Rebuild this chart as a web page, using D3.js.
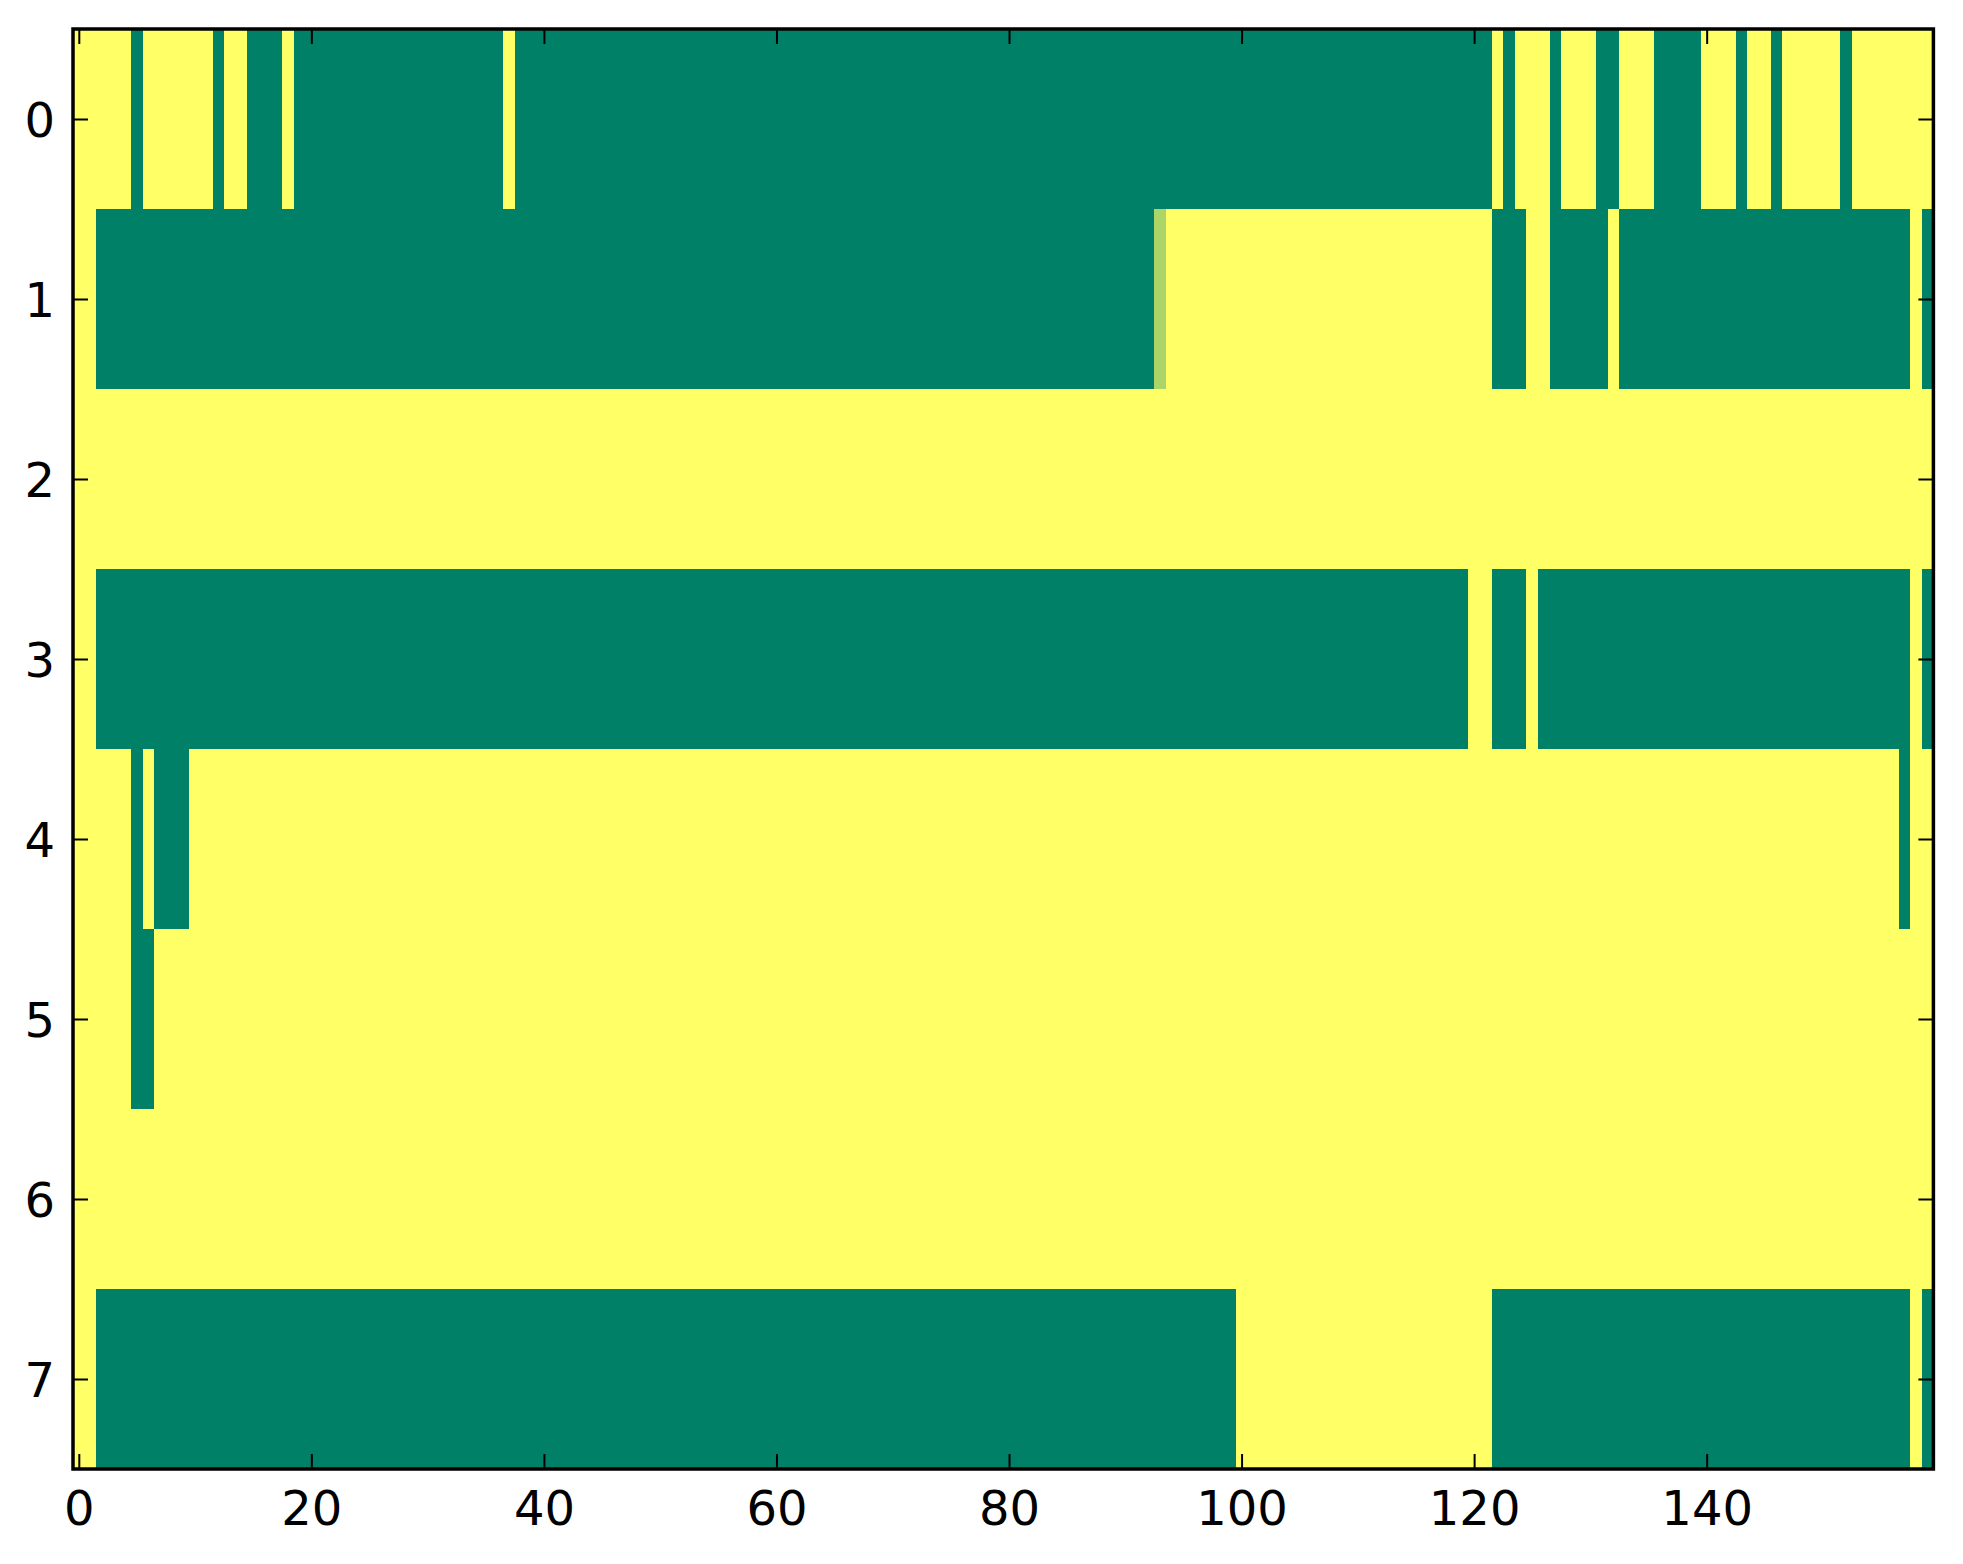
<!DOCTYPE html>
<html>
<head>
<meta charset="utf-8">
<script src="https://cdn.jsdelivr.net/npm/d3@7/dist/d3.min.js"></script>
<style>
  body { margin: 0; background: #fff; }
  svg { display: block; }
  .axis text { font-family: "DejaVu Sans", sans-serif; font-size: 48px; fill: #000; }
</style>
</head>
<body>
<div id="chart"></div>
<script>
// one array per image row, 160 columns each (0 = green, 1 = yellow)
var row0 = [
  1,1,1,1,1,0,1,1,1,1,1,1,0,1,1,0,0,0,1,0,
  0,0,0,0,0,0,0,0,0,0,0,0,0,0,0,0,0,1,0,0,
  0,0,0,0,0,0,0,0,0,0,0,0,0,0,0,0,0,0,0,0,
  0,0,0,0,0,0,0,0,0,0,0,0,0,0,0,0,0,0,0,0,
  0,0,0,0,0,0,0,0,0,0,0,0,0,0,0,0,0,0,0,0,
  0,0,0,0,0,0,0,0,0,0,0,0,0,0,0,0,0,0,0,0,
  0,0,1,0,1,1,1,0,1,1,1,0,0,1,1,1,0,0,0,0,
  1,1,1,0,1,1,0,1,1,1,1,1,0,1,1,1,1,1,1,1
];
var row1 = [
  1,1,0,0,0,0,0,0,0,0,0,0,0,0,0,0,0,0,0,0,
  0,0,0,0,0,0,0,0,0,0,0,0,0,0,0,0,0,0,0,0,
  0,0,0,0,0,0,0,0,0,0,0,0,0,0,0,0,0,0,0,0,
  0,0,0,0,0,0,0,0,0,0,0,0,0,0,0,0,0,0,0,0,
  0,0,0,0,0,0,0,0,0,0,0,0,0,0.67,1,1,1,1,1,1,
  1,1,1,1,1,1,1,1,1,1,1,1,1,1,1,1,1,1,1,1,
  1,1,0,0,0,1,1,0,0,0,0,0,1,0,0,0,0,0,0,0,
  0,0,0,0,0,0,0,0,0,0,0,0,0,0,0,0,0,0,1,0
];
var row2 = [
  1,1,1,1,1,1,1,1,1,1,1,1,1,1,1,1,1,1,1,1,
  1,1,1,1,1,1,1,1,1,1,1,1,1,1,1,1,1,1,1,1,
  1,1,1,1,1,1,1,1,1,1,1,1,1,1,1,1,1,1,1,1,
  1,1,1,1,1,1,1,1,1,1,1,1,1,1,1,1,1,1,1,1,
  1,1,1,1,1,1,1,1,1,1,1,1,1,1,1,1,1,1,1,1,
  1,1,1,1,1,1,1,1,1,1,1,1,1,1,1,1,1,1,1,1,
  1,1,1,1,1,1,1,1,1,1,1,1,1,1,1,1,1,1,1,1,
  1,1,1,1,1,1,1,1,1,1,1,1,1,1,1,1,1,1,1,1
];
var row3 = [
  1,1,0,0,0,0,0,0,0,0,0,0,0,0,0,0,0,0,0,0,
  0,0,0,0,0,0,0,0,0,0,0,0,0,0,0,0,0,0,0,0,
  0,0,0,0,0,0,0,0,0,0,0,0,0,0,0,0,0,0,0,0,
  0,0,0,0,0,0,0,0,0,0,0,0,0,0,0,0,0,0,0,0,
  0,0,0,0,0,0,0,0,0,0,0,0,0,0,0,0,0,0,0,0,
  0,0,0,0,0,0,0,0,0,0,0,0,0,0,0,0,0,0,0,0,
  1,1,0,0,0,1,0,0,0,0,0,0,0,0,0,0,0,0,0,0,
  0,0,0,0,0,0,0,0,0,0,0,0,0,0,0,0,0,0,1,0
];
var row4 = [
  1,1,1,1,1,0,1,0,0,0,1,1,1,1,1,1,1,1,1,1,
  1,1,1,1,1,1,1,1,1,1,1,1,1,1,1,1,1,1,1,1,
  1,1,1,1,1,1,1,1,1,1,1,1,1,1,1,1,1,1,1,1,
  1,1,1,1,1,1,1,1,1,1,1,1,1,1,1,1,1,1,1,1,
  1,1,1,1,1,1,1,1,1,1,1,1,1,1,1,1,1,1,1,1,
  1,1,1,1,1,1,1,1,1,1,1,1,1,1,1,1,1,1,1,1,
  1,1,1,1,1,1,1,1,1,1,1,1,1,1,1,1,1,1,1,1,
  1,1,1,1,1,1,1,1,1,1,1,1,1,1,1,1,1,0,1,1
];
var row5 = [
  1,1,1,1,1,0,0,1,1,1,1,1,1,1,1,1,1,1,1,1,
  1,1,1,1,1,1,1,1,1,1,1,1,1,1,1,1,1,1,1,1,
  1,1,1,1,1,1,1,1,1,1,1,1,1,1,1,1,1,1,1,1,
  1,1,1,1,1,1,1,1,1,1,1,1,1,1,1,1,1,1,1,1,
  1,1,1,1,1,1,1,1,1,1,1,1,1,1,1,1,1,1,1,1,
  1,1,1,1,1,1,1,1,1,1,1,1,1,1,1,1,1,1,1,1,
  1,1,1,1,1,1,1,1,1,1,1,1,1,1,1,1,1,1,1,1,
  1,1,1,1,1,1,1,1,1,1,1,1,1,1,1,1,1,1,1,1
];
var row6 = [
  1,1,1,1,1,1,1,1,1,1,1,1,1,1,1,1,1,1,1,1,
  1,1,1,1,1,1,1,1,1,1,1,1,1,1,1,1,1,1,1,1,
  1,1,1,1,1,1,1,1,1,1,1,1,1,1,1,1,1,1,1,1,
  1,1,1,1,1,1,1,1,1,1,1,1,1,1,1,1,1,1,1,1,
  1,1,1,1,1,1,1,1,1,1,1,1,1,1,1,1,1,1,1,1,
  1,1,1,1,1,1,1,1,1,1,1,1,1,1,1,1,1,1,1,1,
  1,1,1,1,1,1,1,1,1,1,1,1,1,1,1,1,1,1,1,1,
  1,1,1,1,1,1,1,1,1,1,1,1,1,1,1,1,1,1,1,1
];
var row7 = [
  1,1,0,0,0,0,0,0,0,0,0,0,0,0,0,0,0,0,0,0,
  0,0,0,0,0,0,0,0,0,0,0,0,0,0,0,0,0,0,0,0,
  0,0,0,0,0,0,0,0,0,0,0,0,0,0,0,0,0,0,0,0,
  0,0,0,0,0,0,0,0,0,0,0,0,0,0,0,0,0,0,0,0,
  0,0,0,0,0,0,0,0,0,0,0,0,0,0,0,0,0,0,0,0,
  1,1,1,1,1,1,1,1,1,1,1,1,1,1,1,1,1,1,1,1,
  1,1,0,0,0,0,0,0,0,0,0,0,0,0,0,0,0,0,0,0,
  0,0,0,0,0,0,0,0,0,0,0,0,0,0,0,0,0,0,1,0
];

var rows = [row0, row1, row2, row3, row4, row5, row6, row7];
var xTicks = [0, 20, 40, 60, 80, 100, 120, 140];
var yTicks = [0, 1, 2, 3, 4, 5, 6, 7];

(function draw() {

  var W = 1963, H = 1564;
  var left = 73, right = 1933.4, top = 29, bottom = 1469;
  var ncol = row0.length;

  var x = d3.scaleLinear().domain([-0.5, ncol - 0.5]).range([left, right]);
  var y = d3.scaleLinear().domain([-0.5, rows.length - 0.5]).range([top, bottom]);

  // matplotlib "summer" colormap
  var color = d3.scaleLinear().domain([0, 1]).range(['#008066', '#ffff66']);

  var svg = d3.select('#chart').append('svg')
      .attr('width', W)
      .attr('height', H);

  var cells = [];
  rows.forEach(function (r, i) {
    r.forEach(function (v, j) {
      cells.push({ row: i, col: j, value: v });
    });
  });

  svg.append('g')
    .selectAll('rect')
      .data(cells)
      .enter()
    .append('rect')
      .attr('x', function (d) { return x(d.col - 0.5); })
      .attr('y', function (d) { return y(d.row - 0.5); })
      .attr('width', function (d) { return x(d.col + 0.5) - x(d.col - 0.5) + 0.4; })
      .attr('height', function (d) { return y(d.row + 0.5) - y(d.row - 0.5) + 0.4; })
      .attr('fill', function (d) { return color(d.value); })
      .attr('shape-rendering', 'crispEdges');

  function styleAxis(g) {
    g.select('.domain').remove();
    g.selectAll('.tick line').attr('stroke', '#000').attr('stroke-width', 2);
  }

  var xb = svg.append('g')
      .attr('class', 'axis')
      .attr('transform', 'translate(0,' + bottom + ')')
      .call(d3.axisBottom(x).tickValues(xTicks).tickSizeInner(-15).tickSizeOuter(0).tickFormat(d3.format('d')))
      .call(styleAxis);
  xb.selectAll('text').attr('y', 56).attr('dy', 0);

  svg.append('g')
      .attr('transform', 'translate(0,' + top + ')')
      .call(d3.axisTop(x).tickValues(xTicks).tickSizeInner(-15).tickSizeOuter(0).tickFormat(''))
      .call(styleAxis);

  var yl = svg.append('g')
      .attr('class', 'axis')
      .attr('transform', 'translate(' + left + ',0)')
      .call(d3.axisLeft(y).tickValues(yTicks).tickSizeInner(-15).tickSizeOuter(0).tickFormat(d3.format('d')))
      .call(styleAxis);
  yl.selectAll('text').attr('x', -18).attr('dy', 0).attr('y', 17);

  svg.append('g')
      .attr('transform', 'translate(' + right + ',0)')
      .call(d3.axisRight(y).tickValues(yTicks).tickSizeInner(-15).tickSizeOuter(0).tickFormat(''))
      .call(styleAxis);

  svg.append('rect')
      .attr('x', left)
      .attr('y', top)
      .attr('width', right - left)
      .attr('height', bottom - top)
      .attr('fill', 'none')
      .attr('stroke', '#000')
      .attr('stroke-width', 3.5);
})();
</script>
</body>
</html>
